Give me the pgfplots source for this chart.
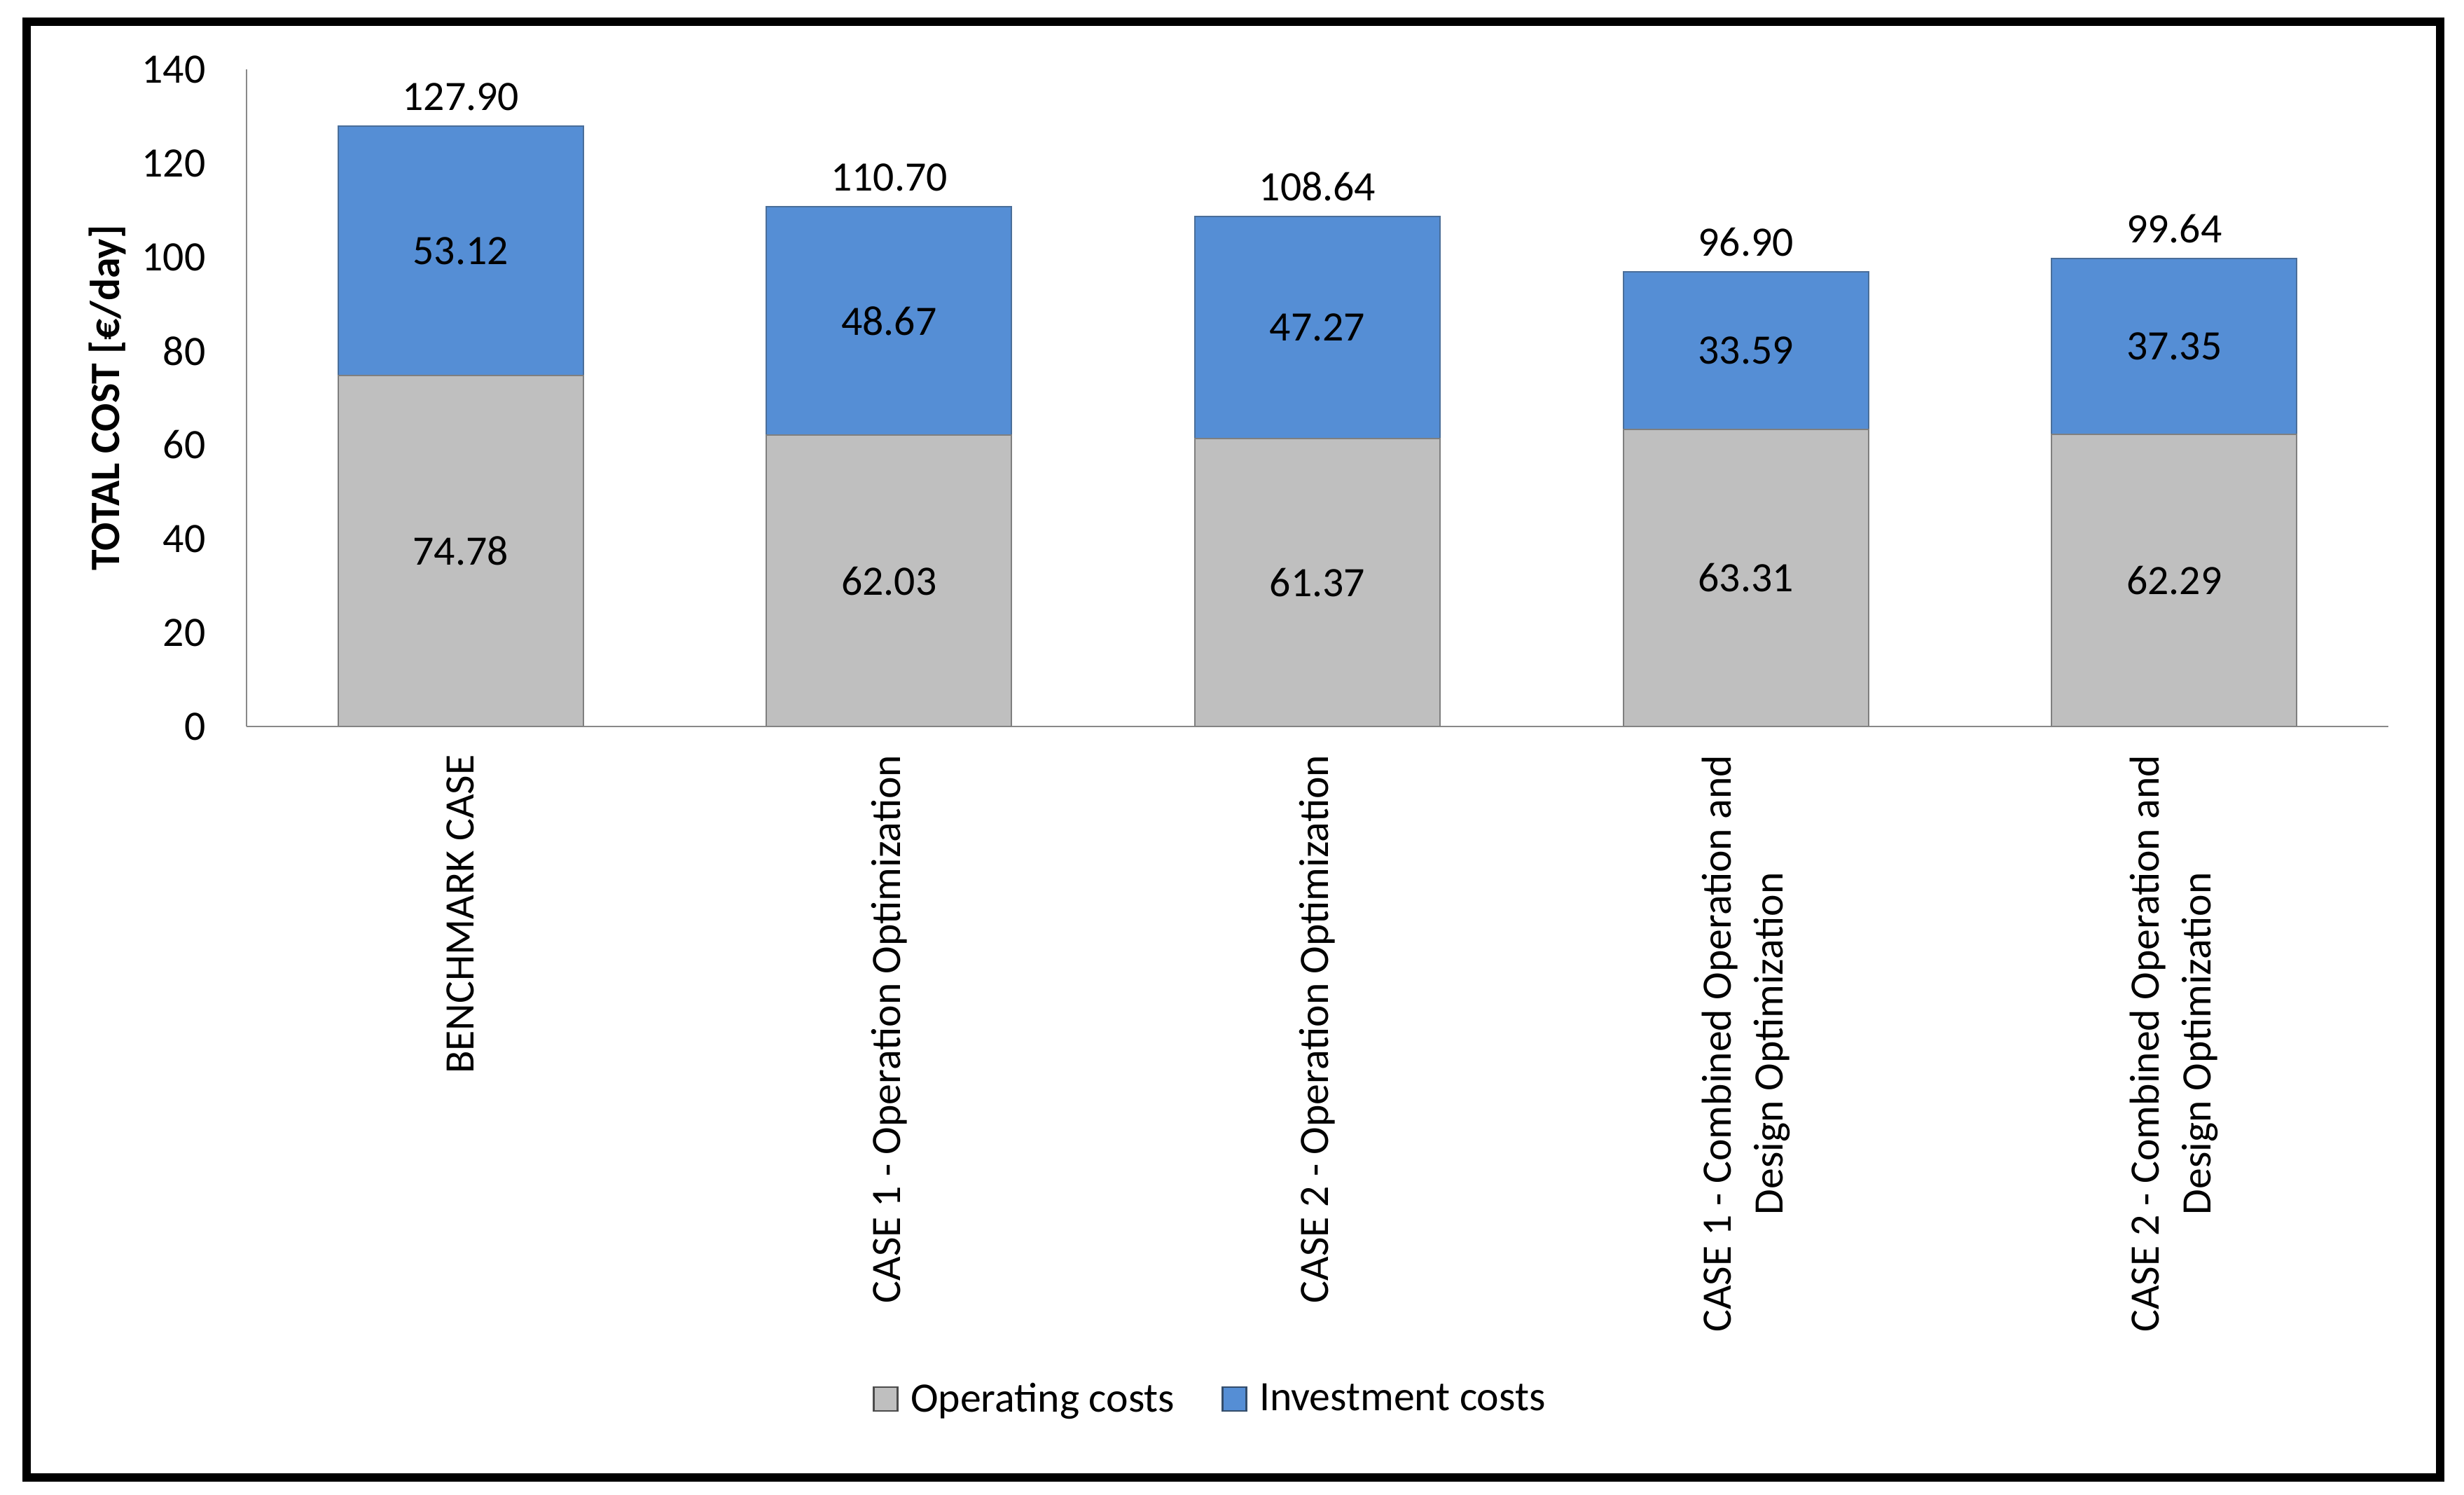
\documentclass[border=0pt]{standalone}
\usepackage{pgfplots}
\usepackage{pgfplotstable}
\usepackage{fontspec}
\setmainfont{Carlito}
\pgfplotsset{compat=1.18}

\definecolor{opgray}{HTML}{BFBFBF}
\definecolor{invblue}{HTML}{558ED5}
\definecolor{edgegray}{HTML}{7F7F7F}
\definecolor{edgeblue}{HTML}{4A6E99}
\definecolor{axisgray}{HTML}{898989}

% cost per case, EUR/day (tot = op + inv, as printed above the bars)
\pgfplotstableread{
x op inv tot
0 74.78 53.12 127.90
1 62.03 48.67 110.70
2 61.37 47.27 108.64
3 63.31 33.59 96.90
4 62.29 37.35 99.64
}\costdata

\begin{document}
\begin{tikzpicture}[font=\fontsize{17}{21}\selectfont]
\path (-3.52,-10.97) rectangle (31.66,10.37);
\draw[line width=0.12cm] (-3.14,-10.72) rectangle (31.32,10.06);
\begin{axis}[
scale only axis,
width=30.58cm, height=9.38cm,
xmin=-0.5, xmax=4.5,
ymin=0, ymax=140,
ytick={0,20,...,140},
xtick=data,
xticklabels={BENCHMARK CASE, CASE 1 - Operation Optimization, CASE 2 - Operation Optimization, CASE 1 - Combined Operation and\\Design Optimization, CASE 2 - Combined Operation and\\Design Optimization},
axis x line*=bottom, axis y line*=left,
axis line style={axisgray, line width=0.6pt},
major tick length=0pt,
xticklabel style={rotate=90, anchor=east, align=center, inner xsep=0.4cm, inner ysep=0pt},
yticklabel style={anchor=east, inner xsep=0.58cm, inner ysep=0pt},
/pgf/number format/assume math mode=true,
ylabel={\bfseries TOTAL COST [€/day]},
every axis y label/.style={at={(axis description cs:-0.0651,0.5)}, rotate=90, anchor=center},
legend style={at={(axis description cs:0.4506,-1.0235)}, anchor=center, draw=none, legend columns=-1,
  /tikz/every odd column/.append style={column sep=0.1cm},
  /tikz/every even column/.append style={column sep=0.6cm}},
]
% full bars (total height), the grey part is drawn over them
\addplot[ybar, bar width=3.5cm, bar shift=0pt, fill=invblue, draw=edgeblue, line width=0.6pt,
  forget plot,
  point meta=explicit,
  nodes near coords={\pgfmathprintnumber[fixed,fixed zerofill,precision=2]{\pgfplotspointmeta}},
  nodes near coords style={anchor=south, inner sep=0pt, yshift=0.21cm, text=black},
] table[x=x, y=tot, meta=tot] {\costdata};
\addplot[ybar, bar width=3.5cm, bar shift=0pt, fill=opgray, draw=edgegray, line width=0.6pt,
  forget plot,
  point meta=explicit,
  visualization depends on={\thisrow{op}\as\rawy},
  nodes near coords={\pgfmathprintnumber[fixed,fixed zerofill,precision=2]{\pgfplotspointmeta}},
  nodes near coords style={anchor=center, shift={(axis direction cs:0,-\rawy/2)}, text=black},
] table[x=x, y=op, meta=op] {\costdata};
% investment label, centred in the blue part
\addplot[draw=none, mark=none, forget plot,
  point meta=explicit,
  visualization depends on={\thisrow{inv}\as\rawy},
  nodes near coords={\pgfmathprintnumber[fixed,fixed zerofill,precision=2]{\pgfplotspointmeta}},
  nodes near coords style={anchor=center, shift={(axis direction cs:0,-\rawy/2)}, text=black},
] table[x=x, y=tot, meta=inv] {\costdata};
\addlegendimage{legend image code/.code={\draw[fill=opgray, draw=edgegray!60!black, line width=0.8pt] (0cm,-0.17cm) rectangle (0.34cm,0.17cm);}}
\addlegendentry{Operating costs}
\addlegendimage{legend image code/.code={\draw[fill=invblue, draw=edgeblue!70!black, line width=0.8pt] (0cm,-0.17cm) rectangle (0.34cm,0.17cm);}}
\addlegendentry{Investment costs}
\end{axis}
\end{tikzpicture}
\end{document}
